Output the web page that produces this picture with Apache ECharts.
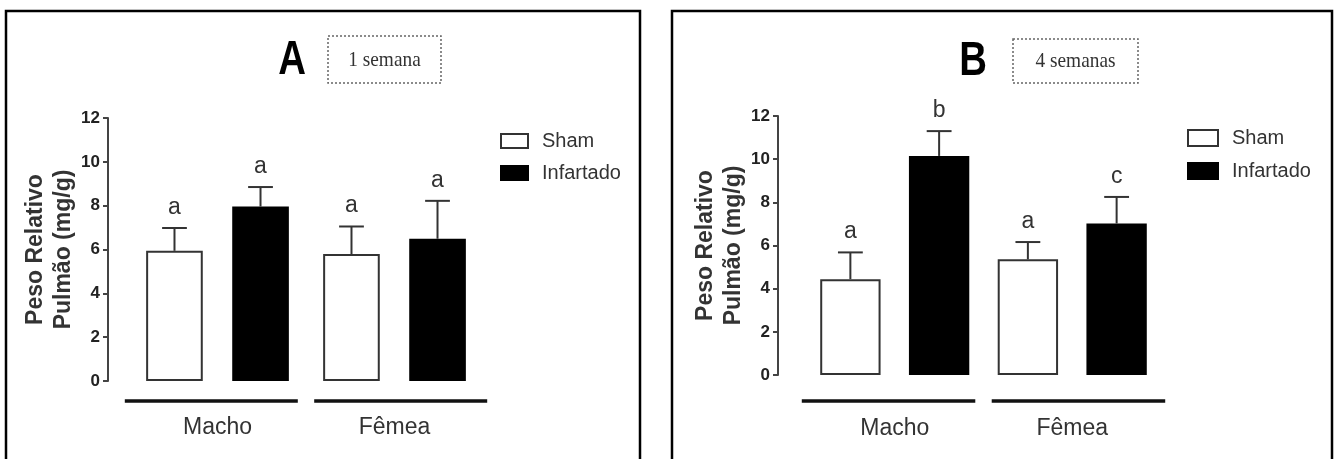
<!DOCTYPE html>
<html>
<head>
<meta charset="utf-8">
<script src="https://cdn.jsdelivr.net/npm/echarts@6/dist/echarts.min.js"></script>
<style>
  html, body { margin: 0; padding: 0; background: #fff; }
  #chart { width: 1338px; height: 459px; }
</style>
</head>
<body>
<div id="chart"></div>
<script>
// Categories, groups and axis ticks
const categories = ['Macho', 'Fêmea'];
const groupNames = ['Sham', 'Infartado'];
const yTicks = [0, 2, 4, 6, 8, 10, 12];
const yName = 'Peso Relativo\nPulmão (mg/g)';

// Painel A: 1 semana (média e erro, mg/g)
const shamW1 = [5.94, 5.79];
const shamW1Err = [1.04, 1.26];
const infW1 = [7.96, 6.49];
const infW1Err = [0.89, 1.73];
const shamW1Letters = ['a', 'a'];
const infW1Letters = ['a', 'a'];

// Painel B: 4 semanas (média e erro, mg/g)
const shamW4 = [4.44, 5.36];
const shamW4Err = [1.24, 0.80];
const infW4 = [10.15, 7.02];
const infW4Err = [1.15, 1.23];
const shamW4Letters = ['a', 'a'];
const infW4Letters = ['b', 'c'];

const panelLetters = ['A', 'B'];
const periodLabels = ['1 semana', '4 semanas'];

const SANS = '"Liberation Sans", Arial, Helvetica, sans-serif';
const SERIF = '"Liberation Serif", "Times New Roman", serif';

// Layout of the two panels
const panels = [
  { grid: { left: 129, right: 855, top: 118, bottom: 78 }, axisOffset: 21,
    barWidth: '32%', barGap: '52%', pair: 0.486, labelMargin: 35, lineDrop: 20,
    sham: shamW1, shamErr: shamW1Err, inf: infW1, infErr: infW1Err,
    shamLetters: shamW1Letters, infLetters: infW1Letters,
    legend: { left: 500, top: 131, itemWidth: 27, itemHeight: 14, itemGap: 12 } },
  { grid: { left: 806, right: 177, top: 116, bottom: 84 }, axisOffset: 28,
    barWidth: '34%', barGap: '47%', pair: 0.5, labelMargin: 42, lineDrop: 26,
    sham: shamW4, shamErr: shamW4Err, inf: infW4, infErr: infW4Err,
    shamLetters: shamW4Letters, infLetters: infW4Letters,
    legend: { left: 1187, top: 128, itemWidth: 30, itemHeight: 16, itemGap: 13 } }
];

// Upward error bar with significance letter above the cap
function errorSeries(gi, means, errs, letters, side, pair) {
  return {
    type: 'custom', xAxisIndex: gi, yAxisIndex: gi, clip: false, z: 5, silent: true,
    data: means.map((m, i) => [i, m, errs[i]]),
    renderItem(params, api) {
      const i = api.value(0), m = api.value(1), e = api.value(2);
      const band = api.size([1, 0])[0];
      const base = api.coord([i, m]);
      const top = api.coord([i, m + e]);
      const x = base[0] + side * band * pair / 2;
      const cap = band * 0.14;
      return {
        type: 'group',
        children: [
          { type: 'line', shape: { x1: x, y1: base[1], x2: x, y2: top[1] },
            style: { stroke: '#333', lineWidth: 2 } },
          { type: 'line', shape: { x1: x - cap / 2, y1: top[1], x2: x + cap / 2, y2: top[1] },
            style: { stroke: '#333', lineWidth: 2 } },
          { type: 'text', x: x, y: top[1] - 9,
            style: { text: letters[params.dataIndex], fontSize: 23, fontFamily: SANS,
                     fill: '#333', align: 'center', verticalAlign: 'bottom' } }
        ]
      };
    }
  };
}

// Thick underline for each sex group, spread slightly apart from the centre
function groupLineSeries(gi, drop) {
  return {
    type: 'custom', xAxisIndex: gi, yAxisIndex: gi, clip: false, silent: true,
    data: categories.map((c, i) => [i, 0]),
    renderItem(params, api) {
      const c = api.coord([api.value(0), 0]);
      const first = api.coord([0, 0])[0];
      const last = api.coord([categories.length - 1, 0])[0];
      const mid = (first + last) / 2;
      const cx = mid + (c[0] - mid) * 1.07;
      const band = api.size([1, 0])[0];
      const half = band / 2 - 2;
      return { type: 'line',
        shape: { x1: cx - half, y1: c[1] + drop, x2: cx + half, y2: c[1] + drop },
        style: { stroke: '#111', lineWidth: 3.5 } };
    }
  };
}

const grids = [], xAxes = [], yAxes = [], series = [], legends = [];
panels.forEach((p, gi) => {
  grids.push(p.grid);
  xAxes.push({
    type: 'category', gridIndex: gi, data: categories,
    axisLine: { show: false }, axisTick: { show: false },
    axisLabel: { fontSize: 23, fontFamily: SANS, color: '#333', margin: p.labelMargin }
  });
  yAxes.push({
    type: 'value', gridIndex: gi,
    min: yTicks[0], max: yTicks[yTicks.length - 1], interval: yTicks[1] - yTicks[0],
    offset: p.axisOffset,
    axisLine: { show: true, lineStyle: { color: '#444', width: 2 } },
    axisTick: { show: true, length: 5, lineStyle: { color: '#444', width: 2 } },
    splitLine: { show: false },
    axisLabel: { fontSize: 17, fontWeight: 'bold', fontFamily: SANS, color: '#222', margin: 8 },
    name: yName, nameLocation: 'middle', nameGap: 30, nameRotate: 90,
    nameTextStyle: { fontSize: 23, fontWeight: 'bold', fontFamily: SANS, color: '#333', lineHeight: 28 }
  });
  series.push({
    type: 'bar', name: groupNames[0], xAxisIndex: gi, yAxisIndex: gi,
    data: p.sham, barWidth: p.barWidth, barGap: p.barGap,
    itemStyle: { color: '#fff', borderColor: '#333', borderWidth: 2 }
  });
  series.push({
    type: 'bar', name: groupNames[1], xAxisIndex: gi, yAxisIndex: gi,
    data: p.inf, barWidth: p.barWidth, barGap: p.barGap,
    itemStyle: { color: '#000', borderColor: '#000', borderWidth: 2 }
  });
  series.push(errorSeries(gi, p.sham, p.shamErr, p.shamLetters, -1, p.pair));
  series.push(errorSeries(gi, p.inf, p.infErr, p.infLetters, 1, p.pair));
  series.push(groupLineSeries(gi, p.lineDrop));
  legends.push({
    data: groupNames, orient: 'vertical', icon: 'rect', padding: 0,
    left: p.legend.left, top: p.legend.top,
    itemWidth: p.legend.itemWidth, itemHeight: p.legend.itemHeight, itemGap: p.legend.itemGap,
    selectedMode: false,
    textStyle: { fontSize: 20, fontFamily: SANS, color: '#333', lineHeight: 20, padding: [0, 0, 0, 9] }
  });
});

// Panel frames, panel letters and period boxes
const graphic = [
  { type: 'rect', shape: { x: 6, y: 11, width: 634, height: 470 },
    style: { fill: 'none', stroke: '#000', lineWidth: 2.5 } },
  { type: 'rect', shape: { x: 672, y: 11, width: 660, height: 470 },
    style: { fill: 'none', stroke: '#000', lineWidth: 2.5 } },
  { type: 'text', x: 292, y: 61, scaleX: 0.8,
    style: { text: panelLetters[0], fontSize: 48, fontWeight: 'bold', fontFamily: SANS,
             fill: '#000', align: 'center', verticalAlign: 'middle' } },
  { type: 'text', x: 973, y: 62, scaleX: 0.8,
    style: { text: panelLetters[1], fontSize: 48, fontWeight: 'bold', fontFamily: SANS,
             fill: '#000', align: 'center', verticalAlign: 'middle' } },
  { type: 'rect', shape: { x: 328, y: 36, width: 113, height: 47 },
    style: { fill: 'none', stroke: '#666', lineWidth: 1.5, lineDash: [2, 2] } },
  { type: 'text', x: 384.5, y: 60, scaleX: 0.92,
    style: { text: periodLabels[0], fontSize: 21, fontFamily: SERIF,
             fill: '#333', align: 'center', verticalAlign: 'middle' } },
  { type: 'rect', shape: { x: 1013, y: 39, width: 125, height: 44 },
    style: { fill: 'none', stroke: '#666', lineWidth: 1.5, lineDash: [2, 2] } },
  { type: 'text', x: 1075.5, y: 61, scaleX: 0.92,
    style: { text: periodLabels[1], fontSize: 21, fontFamily: SERIF,
             fill: '#333', align: 'center', verticalAlign: 'middle' } }
];

const chart = echarts.init(document.getElementById('chart'), null, { renderer: 'canvas' });
chart.setOption({
  animation: false,
  backgroundColor: '#fff',
  grid: grids,
  xAxis: xAxes,
  yAxis: yAxes,
  legend: legends,
  series: series,
  graphic: graphic
});
</script>
</body>
</html>
